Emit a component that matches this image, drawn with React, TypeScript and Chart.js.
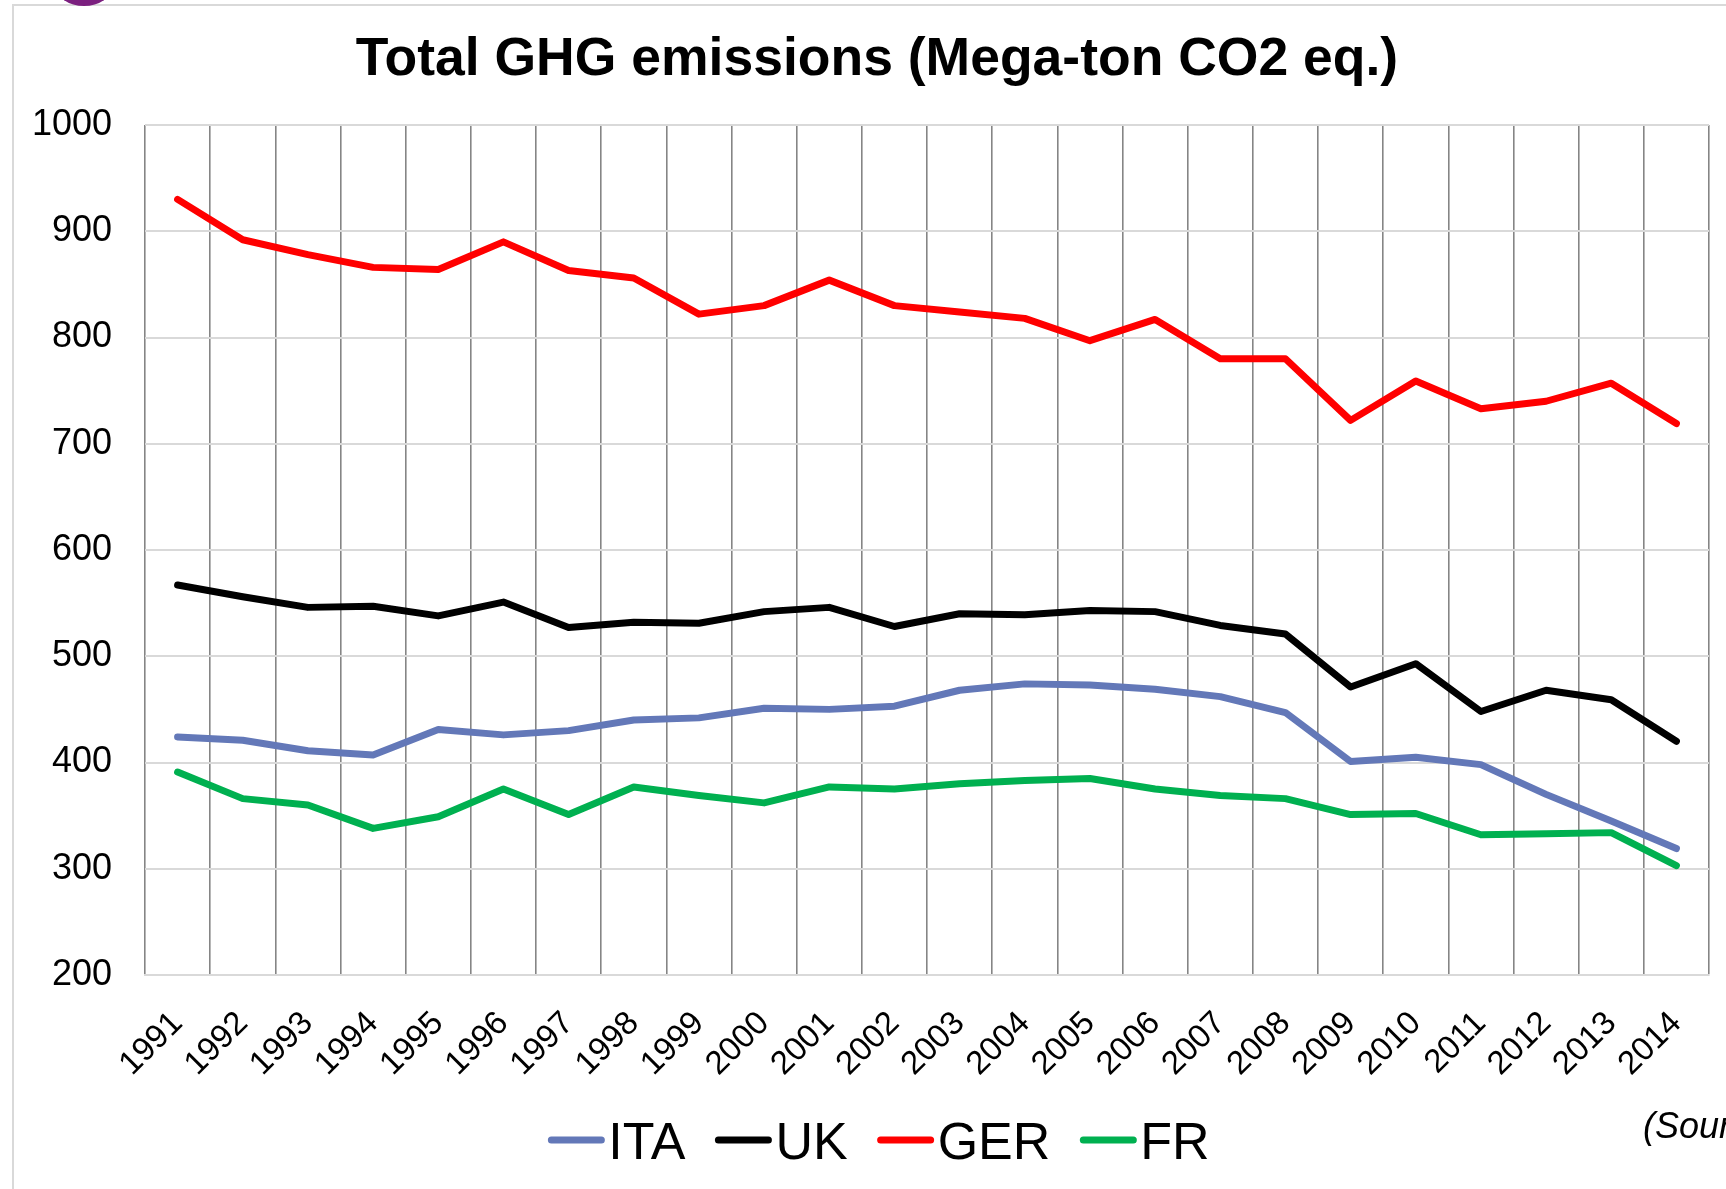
import { useEffect, useRef } from "react";
import { Chart, registerables } from "chart.js";

Chart.register(...registerables);

const years = [
  "1991", "1992", "1993", "1994", "1995", "1996", "1997", "1998",
  "1999", "2000", "2001", "2002", "2003", "2004", "2005", "2006",
  "2007", "2008", "2009", "2010", "2011", "2012", "2013", "2014",
];

const itaValues = [
  424, 421, 411, 407, 431, 426, 430, 440, 442, 451, 450, 453,
  468, 474, 473, 469, 462, 447, 401, 405, 398, 370, 345, 319,
];
const ukValues = [
  567, 556, 546, 547, 538, 551, 527, 532, 531, 542, 546, 528,
  540, 539, 543, 542, 529, 521, 471, 493, 448, 468, 459, 420,
];
const gerValues = [
  930, 892, 878, 866, 864, 890, 863, 856, 822, 830, 854, 830,
  824, 818, 797, 817, 780, 780, 722, 759, 733, 740, 757, 719,
];
const frValues = [
  391, 366, 360, 338, 349, 375, 351, 377, 369, 362, 377, 375,
  380, 383, 385, 375, 369, 366, 351, 352, 332, 333, 334, 303,
];

const seriesNames = ["ITA", "UK", "GER", "FR"];
const seriesColors = ["#6378B8", "#000000", "#FF0000", "#00B050"];
const yMin = 200;
const yMax = 1000;
const yStep = 100;
const chartTitle = "Total GHG emissions (Mega-ton CO2 eq.)";
const sourceNote = "(Source: UNFCCC)";

const FONT = "'Liberation Sans', Arial, Helvetica, sans-serif";
const W = 1726;
const H = 1189;

const decorPlugin = {
  id: "decor",
  beforeDraw(chart: any) {
    const ctx = chart.ctx as CanvasRenderingContext2D;
    ctx.save();
    ctx.fillStyle = "#ffffff";
    ctx.fillRect(0, 0, W, H);
    // outer frame
    ctx.strokeStyle = "#d9d9d9";
    ctx.lineWidth = 2;
    ctx.beginPath();
    ctx.moveTo(13, H + 10);
    ctx.lineTo(13, 5);
    ctx.lineTo(W + 10, 5);
    ctx.stroke();
    // purple badge peeking at the top
    ctx.fillStyle = "#7B1F7F";
    ctx.beginPath();
    ctx.ellipse(84, -14, 28, 20, 0, 0, Math.PI * 2);
    ctx.fill();
    ctx.restore();
  },
  afterDraw(chart: any) {
    const ctx = chart.ctx as CanvasRenderingContext2D;
    ctx.save();
    // title
    ctx.fillStyle = "#000";
    ctx.font = `bold 53.5px ${FONT}`;
    ctx.textAlign = "center";
    ctx.textBaseline = "alphabetic";
    ctx.fillText(chartTitle, 877, 75);

    // legend
    const ds = chart.data.datasets;
    ctx.font = `52px ${FONT}`;
    const lineLen = 56;
    const gapText = 4;
    const gapItem = 30;
    const widths = ds.map((d: any) => ctx.measureText(d.label).width);
    let total = 0;
    widths.forEach((w: number, i: number) => {
      total += lineLen + gapText + w + (i < widths.length - 1 ? gapItem : 0);
    });
    let x = 879 - total / 2;
    const lineY = 1140;
    const baseY = 1159;
    ds.forEach((d: any, i: number) => {
      ctx.strokeStyle = d.borderColor;
      ctx.lineWidth = 7;
      ctx.lineCap = "round";
      ctx.beginPath();
      ctx.moveTo(x + 3, lineY);
      ctx.lineTo(x + lineLen - 3, lineY);
      ctx.stroke();
      ctx.fillStyle = "#000";
      ctx.textAlign = "left";
      ctx.fillText(d.label, x + lineLen + gapText, baseY);
      x += lineLen + gapText + widths[i] + gapItem;
    });

    // source note (cut by the page edge)
    ctx.font = `italic 36px ${FONT}`;
    ctx.textAlign = "left";
    ctx.fillText(sourceNote, 1643, 1138);
    ctx.restore();
  },
};

export default function App() {
  const ref = useRef<HTMLCanvasElement | null>(null);

  useEffect(() => {
    if (!ref.current) return;
    const allValues = [itaValues, ukValues, gerValues, frValues];
    const chart = new Chart(ref.current, {
      type: "line",
      data: {
        labels: years,
        datasets: seriesNames.map((name, i) => ({
          label: name,
          data: allValues[i],
          borderColor: seriesColors[i],
          backgroundColor: seriesColors[i],
          borderWidth: 7,
          borderCapStyle: "round",
          borderJoinStyle: "round",
          pointRadius: 0,
          pointHoverRadius: 0,
          tension: 0,
          fill: false,
        })),
      },
      options: {
        responsive: false,
        animation: false,
        devicePixelRatio: 1,
        layout: {
          padding: { top: 125, left: 0, right: 17, bottom: H - 975 - 100 },
        },
        plugins: {
          legend: { display: false },
          title: { display: false },
          tooltip: { enabled: false },
        },
        scales: {
          x: {
            type: "category",
            offset: true,
            afterFit(scale: any) {
              scale.height = 100;
              scale.paddingLeft = 0;
              scale.paddingRight = 0;
            },
            grid: {
              offset: true,
              color: "#858585",
              lineWidth: 1.6,
              drawTicks: false,
            },
            border: { display: true, color: "#d9d9d9", width: 2 },
            ticks: {
              autoSkip: false,
              minRotation: 45,
              maxRotation: 45,
              padding: 29,
              color: "#000",
              font: { family: FONT, size: 33 },
            },
          },
          y: {
            min: yMin,
            max: yMax,
            afterFit(scale: any) {
              scale.width = 145;
            },
            grid: {
              color: "#d9d9d9",
              lineWidth: 2,
              drawTicks: false,
            },
            border: { display: false },
            ticks: {
              stepSize: yStep,
              padding: 33,
              color: "#000",
              font: { family: FONT, size: 36 },
              callback: (v: any) => String(v),
            },
          },
        },
      },
      plugins: [decorPlugin],
    } as any);
    return () => chart.destroy();
  }, []);

  return (
    <div
      style={{
        position: "fixed",
        left: 0,
        top: 0,
        width: W,
        height: H,
        overflow: "hidden",
        background: "#fff",
      }}
    >
      <canvas ref={ref} width={W} height={H} style={{ width: W, height: H, display: "block" }} />
    </div>
  );
}
